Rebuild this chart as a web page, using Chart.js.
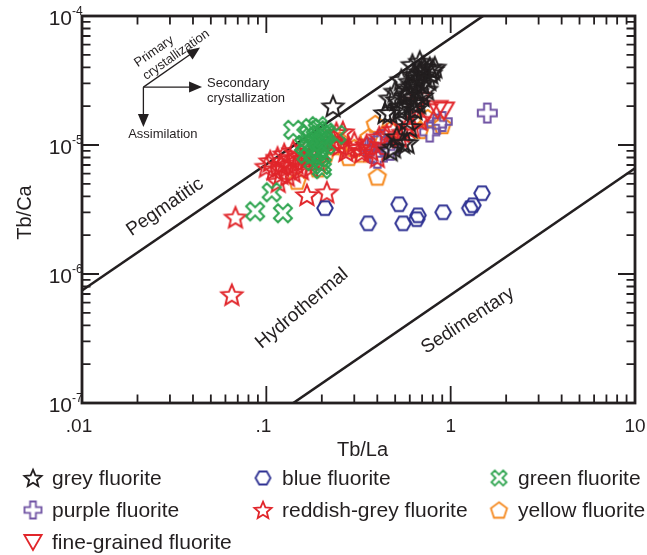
<!DOCTYPE html>
<html><head><meta charset="utf-8">
<script src="https://cdn.jsdelivr.net/npm/chart.js@4.4.1/dist/chart.umd.min.js"></script>
<style>html,body{margin:0;padding:0;background:#fff;}#wrap{width:647px;height:555px;position:relative;}</style>
</head><body><div id="wrap"><canvas id="c" width="647" height="555"></canvas></div>
<script>
// ---- tick labels ----
const xTickValues = [0.01, 0.1, 1, 10];
const xTickLabels = ['.01', '.1', '1', '10'];
const yTickValues = [1e-7, 1e-6, 1e-5, 1e-4];
const yTickExponents = ['-7', '-6', '-5', '-4'];

// ---- series ----
const seriesLabels = ['grey fluorite', 'blue fluorite', 'green fluorite', 'purple fluorite', 'reddish-grey fluorite', 'yellow fluorite', 'fine-grained fluorite'];

const greyX = [0.23, 0.44, 0.47, 0.51, 0.53, 0.53, 0.58, 0.60, 0.51, 0.55, 0.49, 0.47, 0.58, 0.62, 0.54, 0.64, 0.71, 0.77, 0.80, 0.62, 0.68, 0.58, 0.60, 0.62, 0.66, 0.66, 0.70, 0.72, 0.74, 0.68, 0.63, 0.57, 0.70, 0.76, 0.78, 0.82, 0.65, 0.60, 0.72, 0.56, 0.64, 0.67, 0.47, 0.50];
const greyY = [2.0e-5, 1.77e-5, 1.77e-5, 2.24e-5, 1.87e-5, 1.98e-5, 1.57e-5, 1.38e-5, 1.15e-5, 1.04e-5, 9.6e-6, 9.1e-6, 1.04e-5, 2.12e-5, 3.2e-5, 3.0e-5, 4.05e-5, 3.97e-5, 3.83e-5, 4.19e-5, 4.43e-5, 2.8e-5, 2.5e-5, 2.9e-5, 2.6e-5, 3.3e-5, 3.0e-5, 3.5e-5, 2.7e-5, 3.7e-5, 3.5e-5, 2.4e-5, 2.4e-5, 3.2e-5, 3.6e-5, 4.0e-5, 2.2e-5, 3.1e-5, 3.9e-5, 2.0e-5, 1.9e-5, 2.1e-5, 2.3e-5, 2.6e-5];

const blueX = [0.208, 0.357, 0.525, 0.552, 0.665, 0.655, 0.91, 1.27, 1.32, 1.48];
const blueY = [3.24e-6, 2.47e-6, 3.47e-6, 2.47e-6, 2.85e-6, 2.66e-6, 3.01e-6, 3.24e-6, 3.41e-6, 4.23e-6];

const greenX = [0.140, 0.107, 0.087, 0.123, 0.17, 0.18, 0.19, 0.20, 0.18, 0.19, 0.20, 0.21, 0.17, 0.185, 0.195, 0.20, 0.18, 0.16, 0.21, 0.19, 0.20, 0.165, 0.175, 0.24, 0.19, 0.20];
const greenY = [1.31e-5, 4.3e-6, 3.06e-6, 2.96e-6, 1.2e-5, 1.05e-5, 9.5e-6, 1.1e-5, 8.5e-6, 1.3e-5, 1.2e-5, 1.0e-5, 9.5e-6, 1.15e-5, 8.0e-6, 7.0e-6, 7.5e-6, 1.0e-5, 1.25e-5, 1.4e-5, 6.5e-6, 8.5e-6, 1.35e-5, 1.2e-5, 9.0e-6, 1.05e-5];

const purpleX = [1.58, 0.77, 0.84, 0.90, 0.40, 0.40, 0.44, 0.47, 0.38, 0.42, 0.36];
const purpleY = [1.77e-5, 1.26e-5, 1.45e-5, 1.52e-5, 1.04e-5, 7.9e-6, 9.7e-6, 9.1e-6, 8.6e-6, 1.1e-5, 9.5e-6];

const reddishX = [0.065, 0.068, 0.166, 0.213, 0.116, 0.105, 0.11, 0.115, 0.12, 0.125, 0.13, 0.135, 0.14, 0.145, 0.15, 0.155, 0.16, 0.165, 0.17, 0.175, 0.18, 0.12, 0.10, 0.13, 0.14, 0.19, 0.20, 0.23, 0.24, 0.26, 0.28, 0.32, 0.37, 0.40, 0.49, 0.53, 0.62, 0.68, 0.58, 0.41, 0.22, 0.25, 0.27, 0.30, 0.33, 0.35, 0.45, 0.55];
const reddishY = [6.9e-7, 2.75e-6, 4.1e-6, 4.3e-6, 5.2e-6, 7.5e-6, 6.5e-6, 8.0e-6, 7.0e-6, 8.5e-6, 6.8e-6, 7.8e-6, 9.0e-6, 7.2e-6, 8.2e-6, 6.5e-6, 7.6e-6, 9.5e-6, 8.0e-6, 6.8e-6, 8.8e-6, 6.0e-6, 6.8e-6, 5.8e-6, 6.2e-6, 7.5e-6, 9.0e-6, 1.09e-5, 1.24e-5, 1.26e-5, 9.6e-6, 9.5e-6, 9.1e-6, 8.1e-6, 1.31e-5, 1.15e-5, 1.38e-5, 1.57e-5, 1.38e-5, 1.15e-5, 1.1e-5, 1.0e-5, 9.0e-6, 1.05e-5, 8.8e-6, 1.0e-5, 1.2e-5, 1.25e-5];

const yellowX = [0.19, 0.147, 0.40, 0.39, 0.28, 0.33, 0.21, 0.36, 0.68, 0.75, 0.90, 0.25, 0.47, 0.30, 0.23];
const yellowY = [6.6e-6, 5.3e-6, 5.7e-6, 1.46e-5, 8.1e-6, 8.6e-6, 8.6e-6, 1.15e-5, 1.31e-5, 1.62e-5, 1.43e-5, 1.09e-5, 1.31e-5, 9.5e-6, 9.8e-6];

const fineX = [0.63, 0.68, 0.75, 0.85, 0.92];
const fineY = [2.0e-5, 2.2e-5, 1.8e-5, 1.9e-5, 1.85e-5];

// ---- boundary lines ----
const pegmatiticLineX = [0.01, 1.5];
const pegmatiticLineY = [7.45e-7, 1e-4];
const sedimentaryLineX = [0.14, 10];
const sedimentaryLineY = [1e-7, 6.6e-6];

// ---- field labels (data coordinates) ----
const fieldLabels = [
  {text: 'Pegmatitic', x: 0.0282, y: 3.3e-6, angle: -34.5},
  {text: 'Hydrothermal', x: 0.156, y: 5.4e-7, angle: -40},
  {text: 'Sedimentary', x: 1.24, y: 4.35e-7, angle: -33}
];

const FONT = '"Liberation Sans", Arial, Helvetica, sans-serif';
const COL = {grey:'#231f20', blue:'#2e3192', green:'#2ea44f', purple:'#7154a4', red:'#e1262b', yellow:'#f5891f'};

function markerCanvas(shape, color, size, lw) {
  const S = Math.ceil(size + lw * 2 + 4);
  const c = document.createElement('canvas');
  c.width = S; c.height = S;
  const g = c.getContext('2d');
  g.translate(S / 2, S / 2);
  g.strokeStyle = color; g.lineWidth = lw; g.lineJoin = 'miter';
  const R = size / 2;
  const P = [];
  if (shape === 'star') {
    for (let i = 0; i < 10; i++) {
      const a = -Math.PI / 2 + i * Math.PI / 5;
      const r = i % 2 ? R * 0.45 : R;
      P.push([r * Math.cos(a), r * Math.sin(a) + R * 0.08]);
    }
  } else if (shape === 'hex') {
    for (let i = 0; i < 6; i++) { const a = i * Math.PI / 3; P.push([R * Math.cos(a), R * Math.sin(a)]); }
  } else if (shape === 'pent') {
    for (let i = 0; i < 5; i++) { const a = -Math.PI / 2 + i * 2 * Math.PI / 5; P.push([R * Math.cos(a), R * Math.sin(a) + R * 0.1]); }
  } else if (shape === 'tri') {
    for (let i = 0; i < 3; i++) { const a = Math.PI / 2 + i * 2 * Math.PI / 3; P.push([R * Math.cos(a), R * Math.sin(a) - R * 0.2]); }
  } else if (shape === 'plus' || shape === 'x') {
    let a = R * 0.34, r = R;
    if (shape === 'x') { r = R * 1.1; a = R * 0.32; }
    const base = [[-a,-r],[a,-r],[a,-a],[r,-a],[r,a],[a,a],[a,r],[-a,r],[-a,a],[-r,a],[-r,-a],[-a,-a]];
    const th = shape === 'x' ? Math.PI / 4 : 0;
    base.forEach(([px, py]) => P.push([px * Math.cos(th) - py * Math.sin(th), px * Math.sin(th) + py * Math.cos(th)]));
  }
  g.beginPath();
  P.forEach(([px, py], i) => i ? g.lineTo(px, py) : g.moveTo(px, py));
  g.closePath();
  g.stroke();
  return c;
}

const seriesDefs = [
  {label: seriesLabels[0], xs: greyX, ys: greyY, shape: 'star', color: COL.grey, size: 22, lsize: 18, order: 1},
  {label: seriesLabels[1], xs: blueX, ys: blueY, shape: 'hex', color: COL.blue, size: 15.5, lsize: 15, order: 0},
  {label: seriesLabels[2], xs: greenX, ys: greenY, shape: 'x', color: COL.green, size: 18, lsize: 15, order: 3},
  {label: seriesLabels[3], xs: purpleX, ys: purpleY, shape: 'plus', color: COL.purple, size: 19, lsize: 17, order: 5},
  {label: seriesLabels[4], xs: reddishX, ys: reddishY, shape: 'star', color: COL.red, size: 22, lsize: 18, order: 4},
  {label: seriesLabels[5], xs: yellowX, ys: yellowY, shape: 'pent', color: COL.yellow, size: 18, lsize: 17, order: 6},
  {label: seriesLabels[6], xs: fineX, ys: fineY, shape: 'tri', color: COL.red, size: 23, lsize: 20, order: 2}
];
seriesDefs.forEach(s => {
  s.img = markerCanvas(s.shape, s.color, s.size, 2);
  s.limg = markerCanvas(s.shape, s.color, s.lsize, 1.8);
});

const pts = (xs, ys) => xs.map((x, i) => ({x: x, y: ys[i]}));

const datasets = seriesDefs.map(s => ({
  label: s.label, data: pts(s.xs, s.ys), pointStyle: s.img, pointRadius: 10,
  borderColor: s.color, backgroundColor: 'transparent', order: s.order
}));
datasets.push({label: 'Pegmatitic boundary', data: pts(pegmatiticLineX, pegmatiticLineY), showLine: true, pointRadius: 0, borderColor: '#231f20', borderWidth: 2.6, order: 9});
datasets.push({label: 'Sedimentary boundary', data: pts(sedimentaryLineX, sedimentaryLineY), showLine: true, pointRadius: 0, borderColor: '#231f20', borderWidth: 2.6, order: 9});

function arrow(ctx, x1, y1, x2, y2) {
  const ang = Math.atan2(y2 - y1, x2 - x1);
  const L = 13, W = 5.5;
  ctx.beginPath();
  ctx.moveTo(x1, y1);
  ctx.lineTo(x2 - L * 0.7 * Math.cos(ang), y2 - L * 0.7 * Math.sin(ang));
  ctx.stroke();
  ctx.beginPath();
  ctx.moveTo(x2, y2);
  ctx.lineTo(x2 - L * Math.cos(ang) - W * Math.sin(ang), y2 - L * Math.sin(ang) + W * Math.cos(ang));
  ctx.lineTo(x2 - L * Math.cos(ang) + W * Math.sin(ang), y2 - L * Math.sin(ang) - W * Math.cos(ang));
  ctx.closePath();
  ctx.fill();
}

const framePlugin = {
  id: 'frame',
  afterDatasetsDraw(chart) {
    const ctx = chart.ctx, a = chart.chartArea, xs = chart.scales.x, ys = chart.scales.y;
    ctx.save();
    ctx.strokeStyle = '#231f20'; ctx.fillStyle = '#231f20';
    // ticks
    ctx.lineWidth = 1.8;
    for (let d = -2; d <= 1; d++) {
      for (let m = 1; m <= 9; m++) {
        const v = m * Math.pow(10, d);
        if (v > 10 + 1e-9) break;
        const len = m === 1 ? 17 : 8.5;
        const px = xs.getPixelForValue(v);
        ctx.beginPath();
        ctx.moveTo(px, a.bottom); ctx.lineTo(px, a.bottom - len);
        ctx.moveTo(px, a.top); ctx.lineTo(px, a.top + len);
        ctx.stroke();
      }
    }
    for (let d = -7; d <= -4; d++) {
      for (let m = 1; m <= 9; m++) {
        const v = m * Math.pow(10, d);
        if (v > 1e-4 * 1.0001) break;
        const len = m === 1 ? 17 : 8.5;
        const py = ys.getPixelForValue(v);
        ctx.beginPath();
        ctx.moveTo(a.left, py); ctx.lineTo(a.left + len, py);
        ctx.moveTo(a.right, py); ctx.lineTo(a.right - len, py);
        ctx.stroke();
      }
    }
    ctx.lineWidth = 2.8;
    ctx.strokeRect(a.left, a.top, a.right - a.left, a.bottom - a.top);

    // x tick labels
    ctx.font = '19px ' + FONT; ctx.textAlign = 'center'; ctx.textBaseline = 'alphabetic';
    xTickValues.forEach((v, i) => ctx.fillText(xTickLabels[i], xs.getPixelForValue(v) - (i < 2 ? 3 : 0), a.bottom + 29));
    // y tick labels with superscript
    yTickValues.forEach((v, i) => {
      const py = ys.getPixelForValue(v);
      ctx.font = '21px ' + FONT; ctx.textAlign = 'right';
      ctx.fillText('10', a.left - 10, py + 9);
      ctx.font = '12px ' + FONT; ctx.textAlign = 'left';
      ctx.fillText(yTickExponents[i], a.left - 10, py - 1);
    });
    // axis titles
    ctx.font = '20px ' + FONT; ctx.textAlign = 'center';
    ctx.fillText('Tb/La', (a.left + a.right) / 2 + 4, a.bottom + 53);
    ctx.save();
    ctx.translate(25, (a.top + a.bottom) / 2 + 3);
    ctx.rotate(-Math.PI / 2);
    ctx.textBaseline = 'middle';
    ctx.fillText('Tb/Ca', 0, 0);
    ctx.restore();

    // field labels
    ctx.font = '19px ' + FONT; ctx.textAlign = 'center'; ctx.textBaseline = 'middle';
    fieldLabels.forEach(f => {
      ctx.save();
      ctx.translate(xs.getPixelForValue(f.x), ys.getPixelForValue(f.y));
      ctx.rotate(f.angle * Math.PI / 180);
      ctx.fillText(f.text, 0, 0);
      ctx.restore();
    });

    // process arrows
    const ox = xs.getPixelForValue(0.02153), oy = ys.getPixelForValue(2.81e-5);
    ctx.lineWidth = 1.3;
    arrow(ctx, ox, oy, xs.getPixelForValue(0.0437), ys.getPixelForValue(5.69e-5));
    arrow(ctx, ox, oy, xs.getPixelForValue(0.0448), oy);
    arrow(ctx, ox, oy, ox, ys.getPixelForValue(1.38e-5));
    ctx.font = '13px ' + FONT; ctx.textBaseline = 'middle';
    ctx.save();
    ctx.translate(xs.getPixelForValue(0.0246), ys.getPixelForValue(5.3e-5));
    ctx.rotate(-35 * Math.PI / 180);
    ctx.textAlign = 'center';
    ctx.fillText('Primary', 0, 0);
    ctx.restore();
    ctx.save();
    ctx.translate(xs.getPixelForValue(0.0324), ys.getPixelForValue(5.0e-5));
    ctx.rotate(-35 * Math.PI / 180);
    ctx.textAlign = 'center';
    ctx.fillText('crystallization', 0, 0);
    ctx.restore();
    ctx.textAlign = 'left';
    ctx.fillText('Secondary', xs.getPixelForValue(0.0477), ys.getPixelForValue(2.99e-5));
    ctx.fillText('crystallization', xs.getPixelForValue(0.0477), ys.getPixelForValue(2.28e-5));
    ctx.fillText('Assimilation', xs.getPixelForValue(0.0178), ys.getPixelForValue(1.20e-5));
    ctx.restore();
  },
  afterDraw(chart) {
    const ctx = chart.ctx;
    const cols = [33, 263, 499], rows = [478, 510, 542];
    const place = [[0,0],[1,0],[2,0],[0,1],[1,1],[2,1],[0,2]];
    ctx.save();
    ctx.font = '21px ' + FONT; ctx.fillStyle = '#231f20'; ctx.textAlign = 'left'; ctx.textBaseline = 'middle';
    seriesDefs.forEach((s, i) => {
      const cx = cols[place[i][0]], cy = rows[place[i][1]];
      ctx.drawImage(s.limg, cx - s.limg.width / 2, cy - s.limg.height / 2);
      ctx.fillText(s.label, cx + 19, cy + 1);
    });
    ctx.restore();
  }
};

new Chart(document.getElementById('c'), {
  type: 'scatter',
  data: {datasets: datasets},
  options: {
    responsive: false, animation: false, devicePixelRatio: 1,
    layout: {padding: {left: 82, right: 12, top: 16, bottom: 152}},
    scales: {
      x: {type: 'logarithmic', min: 0.01, max: 10, display: false},
      y: {type: 'logarithmic', min: 1e-7, max: 1e-4, display: false}
    },
    plugins: {legend: {display: false}, tooltip: {enabled: false}},
    elements: {point: {borderWidth: 2}}
  },
  plugins: [framePlugin]
});
</script></body></html>
